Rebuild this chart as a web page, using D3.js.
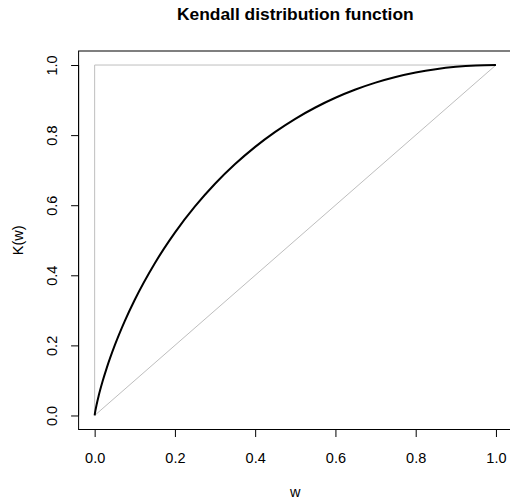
<!DOCTYPE html>
<html><head><meta charset="utf-8">
<script src="https://cdn.jsdelivr.net/npm/d3@7"></script>
<style>body{margin:0;background:#fff}svg{display:block}text{font-family:"Liberation Sans",Arial,sans-serif}</style>
</head><body>
<svg id="c" width="510" height="500"></svg>
<script>
const wVals = [0,0.001,0.002,0.005,0.01,0.02,0.03,0.05,0.075,0.1,0.15,0.2,0.25,0.3,0.35,0.4,0.45,0.5,0.55,0.6,0.65,0.7,0.75,0.8,0.85,0.9,0.95,1];
const kVals = [0,0.0079,0.0144,0.0315,0.0561,0.0982,0.1352,0.1998,0.2693,0.3303,0.4346,0.5219,0.5966,0.6612,0.7174,0.7665,0.8093,0.8466,0.8788,0.9065,0.93,0.9497,0.9658,0.9785,0.9881,0.9948,0.9987,1];
const upperW = [0,0,1];
const upperK = [0,1,1];
const diagW = [0,1];
const diagK = [0,1];
const ticks = [0,0.2,0.4,0.6,0.8,1.0];
const tickLabels = ["0.0","0.2","0.4","0.6","0.8","1.0"];

const svg = d3.select("#c");
const L=78.6,R=512,T=51,B=429.5;
const x = d3.scaleLinear().domain([-0.04,1.04]).range([L,R]);
const y = d3.scaleLinear().domain([-0.04,1.04]).range([B,T]);
const line = d3.line().x(d=>x(d[0])).y(d=>y(d[1]));
const FS = 14.5;

svg.append("path").datum(upperW.map((w,i)=>[w,upperK[i]])).attr("d",line)
  .attr("fill","none").attr("stroke","#bebebe").attr("stroke-width",1);
svg.append("path").datum(diagW.map((w,i)=>[w,diagK[i]])).attr("d",line)
  .attr("fill","none").attr("stroke","#bebebe").attr("stroke-width",1);
svg.append("path").datum(wVals.map((w,i)=>[w,kVals[i]])).attr("d",d3.line().x(d=>x(d[0])).y(d=>y(d[1])).curve(d3.curveMonotoneX))
  .attr("fill","none").attr("stroke","#000").attr("stroke-width",2);

svg.append("rect").attr("x",L).attr("y",T).attr("width",R-L).attr("height",B-T)
  .attr("fill","none").attr("stroke","#000").attr("stroke-width",1);

const xa = svg.append("g").attr("transform",`translate(0,${B})`)
  .call(d3.axisBottom(x).tickValues(ticks).tickFormat((d,i)=>tickLabels[i]).tickSize(7.5).tickSizeOuter(0));
xa.select(".domain").attr("d",`M${x(0)},0H${x(1)}`);
xa.selectAll(".tick line").attr("stroke","#000");
xa.selectAll("text").attr("font-size",FS).attr("fill","#000").attr("font-family","Liberation Sans, Arial, sans-serif")
  .attr("y",33.5).attr("dy",null);

const ya = svg.append("g").attr("transform",`translate(${L},0)`)
  .call(d3.axisLeft(y).tickValues(ticks).tickFormat((d,i)=>tickLabels[i]).tickSize(7.5).tickSizeOuter(0));
ya.select(".domain").attr("d",`M0,${y(0)}V${y(1)}`);
ya.selectAll(".tick line").attr("stroke","#000");
ya.selectAll("text").attr("font-size",FS).attr("fill","#000").attr("font-family","Liberation Sans, Arial, sans-serif")
  .attr("x",null).attr("dy",null).attr("text-anchor","middle")
  .attr("transform",`translate(-22,0) rotate(-90)`);

svg.append("text").attr("x",(x(0)+x(1))/2).attr("y",20).attr("text-anchor","middle")
  .attr("font-size",17.4).attr("font-weight","bold").text("Kendall distribution function");
svg.append("text").attr("x",(x(0)+x(1))/2).attr("y",497).attr("text-anchor","middle")
  .attr("font-size",FS).text("w");
svg.append("text").attr("transform",`translate(22.5,${(y(0)+y(1))/2}) rotate(-90)`).attr("text-anchor","middle")
  .attr("font-size",FS).text("K(w)");
</script>
</body></html>
